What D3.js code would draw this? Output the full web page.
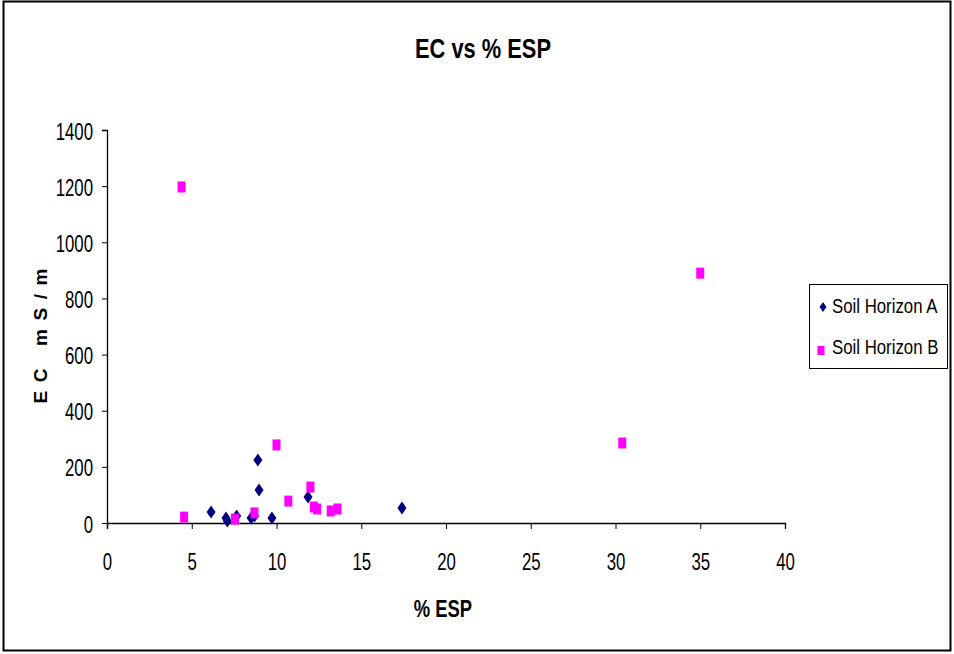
<!DOCTYPE html>
<html>
<head>
<meta charset="utf-8">
<script src="https://cdn.jsdelivr.net/npm/d3@7"></script>
<style>
  body { margin: 0; background: #fff; }
  text { font-family: "Liberation Sans", Arial, sans-serif; }
</style>
</head>
<body>
<svg id="chart" width="954" height="654"></svg>
<script>
// data: % ESP (x) vs EC mS/m (y)
var espA = [8.9, 8.97, 11.86, 17.4, 6.14, 7.02, 7.1, 7.65, 8.5, 8.7, 9.73];
var ecA  = [224, 118, 93, 53, 39, 18, 7, 25, 18, 25, 18];
var espB = [4.4, 4.55, 35.0, 30.4, 10.0, 10.7, 12.0, 12.2, 12.4, 13.2, 13.6, 8.7, 7.55];
var ecB  = [1197, 21, 890, 285, 278, 78, 128, 57, 50, 43, 50, 36, 14];
var xTicks = [0, 5, 10, 15, 20, 25, 30, 35, 40];
var yTicks = [0, 200, 400, 600, 800, 1000, 1200, 1400];
var seriesNames = ["Soil Horizon A", "Soil Horizon B"];

var svg = d3.select("#chart"),
    margin = { top: 130, right: 169, bottom: 131, left: 107 },
    width = +svg.attr("width") - margin.left - margin.right,
    height = +svg.attr("height") - margin.top - margin.bottom;

// the original uses a narrow font, so squeeze the text horizontally
function squeeze(sel, k) {
    sel.each(function () {
        var w = this.getComputedTextLength();
        d3.select(this).attr("textLength", w * k).attr("lengthAdjust", "spacingAndGlyphs");
    });
}

// outer frame
svg.append("rect")
    .attr("x", 3.5).attr("y", 1.5)
    .attr("width", 947).attr("height", 649)
    .attr("fill", "none").attr("stroke", "#000").attr("stroke-width", 2);

svg.append("text")
    .attr("x", 483).attr("y", 58)
    .attr("text-anchor", "middle")
    .attr("font-size", "28px").attr("font-weight", "bold")
    .text("EC vs % ESP")
    .call(squeeze, 0.78);

var xScale = d3.scaleLinear().domain([0, 40]).range([0, width]),
    yScale = d3.scaleLinear().domain([0, 1400]).range([height, 0]);

var g = svg.append("g")
    .attr("transform", "translate(" + margin.left + "," + margin.top + ")");

var xAxis = g.append("g")
    .attr("transform", "translate(0," + height + ")")
    .call(d3.axisBottom(xScale).tickValues(xTicks).tickSize(6).tickFormat(d3.format("d")));
var yAxis = g.append("g")
    .call(d3.axisLeft(yScale).tickValues(yTicks).tickSize(5).tickPadding(9).tickFormat(d3.format("d")));

[xAxis, yAxis].forEach(function (ax) {
    ax.select(".domain").attr("stroke", "#000").attr("stroke-width", 1.3);
    ax.selectAll(".tick line").attr("stroke", "#000");
    ax.selectAll(".tick text")
        .attr("font-size", "23px")
        .attr("fill", "#000")
        .style("font-family", '"Liberation Sans", Arial, sans-serif');
});
xAxis.selectAll(".tick text").attr("y", 47).attr("dy", 0);
yAxis.selectAll(".tick text").attr("dy", 9);
xAxis.selectAll(".tick text").call(squeeze, 0.73);
yAxis.selectAll(".tick text").call(squeeze, 0.73);
// y axis runs down to the x tick length like the original
yAxis.select(".domain").attr("d", "M-5,0.5H0.5V" + (height + 6));

svg.append("text")
    .attr("transform", "translate(47,336) rotate(-90)")
    .attr("text-anchor", "middle")
    .attr("font-size", "19px").attr("font-weight", "bold")
    .style("white-space", "pre")
    .attr("textLength", 135).attr("lengthAdjust", "spacing")
    .text("E C   m S / m");

svg.append("text")
    .attr("x", 443).attr("y", 617)
    .attr("text-anchor", "middle")
    .attr("font-size", "23px").attr("font-weight", "bold")
    .text("% ESP")
    .call(squeeze, 0.8);

var diamond = "M0,-6.5L4.5,0L0,6.5L-4.5,0Z";

g.selectAll(".ptA")
    .data(d3.zip(espA, ecA))
    .enter().append("path")
    .attr("class", "ptA")
    .attr("d", diamond)
    .attr("fill", "#000080")
    .attr("transform", function (d) { return "translate(" + xScale(d[0]) + "," + yScale(d[1]) + ")"; });

g.selectAll(".ptB")
    .data(d3.zip(espB, ecB))
    .enter().append("rect")
    .attr("class", "ptB")
    .attr("x", function (d) { return xScale(d[0]) - 4; })
    .attr("y", function (d) { return yScale(d[1]) - 5.5; })
    .attr("width", 8).attr("height", 11)
    .attr("fill", "#ff00ff");

// legend
var legend = svg.append("g").attr("transform", "translate(809,284)");
legend.append("rect")
    .attr("x", 0.5).attr("y", 0.5).attr("width", 138).attr("height", 84)
    .attr("fill", "#fff").attr("stroke", "#000");
legend.append("path")
    .attr("d", "M0,-5L3.5,0L0,5L-3.5,0Z")
    .attr("fill", "#000080")
    .attr("transform", "translate(14,23)");
legend.append("rect")
    .attr("x", 8.5).attr("y", 62).attr("width", 7).attr("height", 9)
    .attr("fill", "#ff00ff");
// narrow look via a scale transform here, so the box measures right
legend.selectAll(".lg")
    .data(seriesNames)
    .enter().append("text")
    .attr("class", "lg")
    .attr("transform", function (d, i) { return "translate(23," + (29 + i * 41) + ") scale(0.8,1)"; })
    .attr("font-size", "21px")
    .text(function (d) { return d; });
</script>
</body>
</html>
